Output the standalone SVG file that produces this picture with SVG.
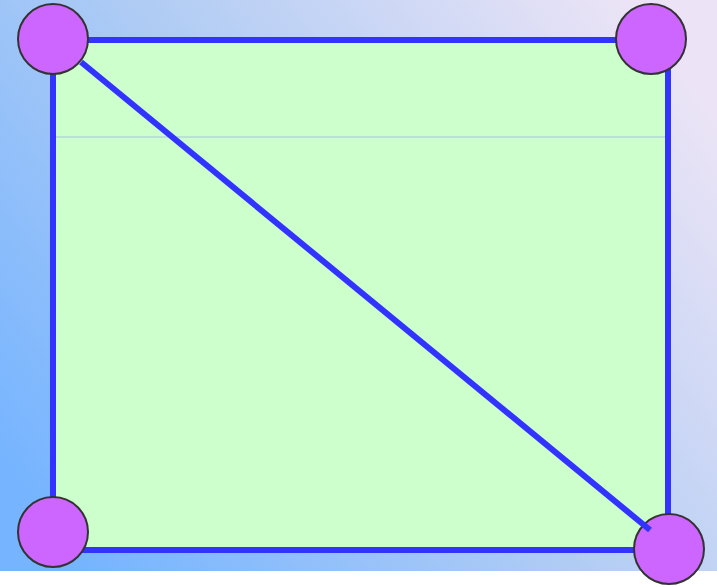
<svg xmlns="http://www.w3.org/2000/svg" width="717" height="587" viewBox="0 0 717 587">
  <defs>
    <linearGradient id="bg" x1="0" y1="0.8" x2="1" y2="0.2">
      <stop offset="0" stop-color="#76b4ff"/>
      <stop offset="0.5" stop-color="#b0ccf4"/>
      <stop offset="1" stop-color="#ece4f6"/>
    </linearGradient>
  </defs>
  <style>
    .edge { stroke: #3333ff; stroke-width: 6; fill: none; }
    .node { fill: #cc66ff; stroke: #333333; stroke-width: 2; }
  </style>
  <rect x="0" y="0" width="717" height="571" fill="url(#bg)"/>
  <rect x="53" y="40" width="615" height="510" fill="#ccffcc"/>
  <line x1="56" y1="137" x2="665" y2="137" stroke="#a8c4dc" stroke-width="1"/>
  <g id="connectors">
    <path class="edge" d="M53,40 H668 V550 H53 Z"/>
  </g>
  <g id="node-tl"><circle class="node" cx="53" cy="39" r="35"/></g>
  <g id="node-tr"><circle class="node" cx="651" cy="39" r="35"/></g>
  <g id="node-bl"><circle class="node" cx="53" cy="532" r="35"/></g>
  <g id="node-br"><circle class="node" cx="669" cy="549" r="35"/></g>
  <g id="connector-diagonal">
    <line class="edge" x1="81" y1="62" x2="650" y2="530"/>
  </g>
</svg>
